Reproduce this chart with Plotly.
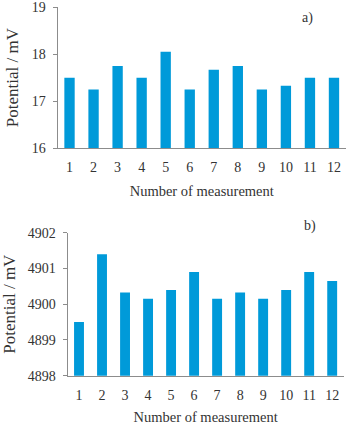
import plotly.graph_objects as go

categories = [str(i) for i in range(1, 13)]
values_a = [17.5, 17.25, 17.75, 17.5, 18.05, 17.25, 17.67, 17.75, 17.25, 17.33, 17.5, 17.5]
values_b = [4899.5, 4901.4, 4900.33, 4900.15, 4900.4, 4900.9, 4900.15, 4900.33, 4900.15, 4900.4, 4900.9, 4900.65]
ticks_a = [16, 17, 18, 19]
ticks_b = [4898, 4899, 4900, 4901, 4902]

W, H = 346, 425
BAR = "#009ad9"
TXT = "#333333"
AX = "#8c8c8c"
FONT = "Liberation Serif"

fig = go.Figure()
fig.add_trace(go.Bar(x=categories, y=values_a, marker_color=BAR, marker_line_width=0,
                     xaxis="x", yaxis="y", showlegend=False))
fig.add_trace(go.Bar(x=categories, y=values_b, marker_color=BAR, marker_line_width=0,
                     xaxis="x2", yaxis="y2", showlegend=False))

def xd(a, b):
    return [a / W, b / W]

def yd(top, bottom):
    return [(H - bottom) / H, (H - top) / H]

common_x = dict(showgrid=False, zeroline=False, showline=True, linecolor=AX, linewidth=1,
                ticks="", ticklabelstandoff=6, automargin=False, ticklabeloverflow="allow",
                tickfont=dict(family=FONT, size=14, color=TXT), fixedrange=True)
common_y = dict(showgrid=False, zeroline=False, showline=True, linecolor=AX, linewidth=1,
                ticks="outside", ticklen=4, tickcolor=AX, ticklabelstandoff=4, automargin=False,
                ticklabeloverflow="allow",
                tickfont=dict(family=FONT, size=14, color=TXT), fixedrange=True)

xtitle = dict(text="Number of measurement", font=dict(family=FONT, size=14.5, color=TXT), standoff=11)
ytitle = dict(text="Potential / mV", font=dict(family=FONT, size=17, color=TXT), standoff=8)

fig.update_layout(
    width=W, height=H,
    margin=dict(l=0, r=0, t=0, b=0),
    paper_bgcolor="white", plot_bgcolor="white",
    bargap=0.57,
    font=dict(family=FONT, size=14, color=TXT),
    xaxis=dict(domain=xd(57.5, 346), anchor="y", title=xtitle, **common_x),
    yaxis=dict(domain=yd(7, 148.3), anchor="x", range=[16, 19], tickvals=ticks_a,
               title=ytitle, **common_y),
    xaxis2=dict(domain=xd(67.5, 343.7), anchor="y2", title=xtitle, **common_x),
    yaxis2=dict(domain=yd(232.7, 375.7), anchor="x2", range=[4898, 4902], tickvals=ticks_b,
                title=ytitle, **common_y),
    annotations=[
        dict(text="a)", x=307 / W, y=(H - 18) / H, xref="paper", yref="paper", showarrow=False,
             xanchor="center", yanchor="middle", font=dict(family=FONT, size=14, color=TXT)),
        dict(text="b)", x=310 / W, y=(H - 226) / H, xref="paper", yref="paper", showarrow=False,
             xanchor="center", yanchor="middle", font=dict(family=FONT, size=14, color=TXT)),
    ],
)

fig.write_html("out.html")
